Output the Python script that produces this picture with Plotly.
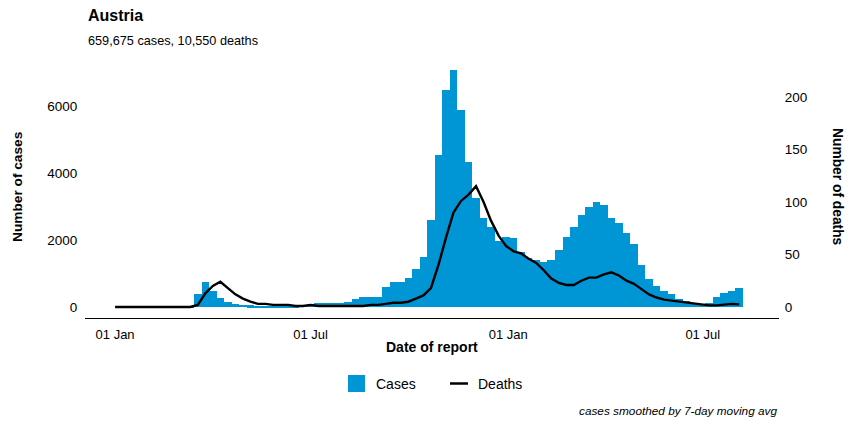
import pandas as pd
import plotly.graph_objects as go

# Weekly readings (starting 2020-01-01, every 7 days)
cases = [0, 0, 0, 0, 0, 0, 0, 0, 0, 3,
         40, 400, 760, 470, 280, 160, 100, 70, 55, 45,
         40, 40, 40, 45, 50, 70, 100, 110, 120, 120,
         125, 150, 250, 290, 300, 310, 600, 750, 760, 880,
         1150, 1500, 2600, 4550, 6500, 7100, 5900, 4350, 3250, 2650,
         2400, 1980, 2100, 2050, 1650, 1480, 1420, 1350, 1400, 1700,
         2100, 2400, 2750, 3000, 3150, 3050, 2650, 2500, 2200, 1900,
         1250, 850, 640, 480, 380, 250, 170, 110, 100, 130,
         300, 420, 480, 560]
deaths = [0, 0, 0, 0, 0, 0, 0, 0, 0, 0,
          0, 2, 13, 20, 24, 18, 12, 8, 5, 3,
          3, 2, 2, 2, 1, 1, 2, 1, 1, 1,
          1, 1, 1, 1, 2, 2, 3, 4, 4, 5,
          8, 11, 18, 40, 66, 90, 101, 107, 115, 100,
          82, 68, 58, 53, 51, 46, 42, 35, 27, 23,
          21, 21, 25, 28, 28, 31, 33, 30, 25, 22,
          17, 12, 9, 7, 6, 5, 4, 3, 2, 1.5,
          1.5, 2.5, 3, 2.5]
dates = pd.date_range("2020-01-01", periods=len(cases), freq="7D")

x_ticks = ["2020-01-01", "2020-07-01", "2021-01-01", "2021-07-01"]
cases_ticks = [0, 2000, 4000, 6000]
deaths_ticks = [0, 50, 100, 150, 200]

title_text = "Austria"
subtitle_text = "659,675 cases, 10,550 deaths"
caption_text = "cases smoothed by 7-day moving avg"
legend_labels = ["Cases", "Deaths"]

BLUE = "#0096D6"
FONT = "Liberation Sans, Arial, sans-serif"

W, H = 854, 427
L, R, T, B = 85, 75, 55, 109
PW, PH = W - L - R, H - T - B


def px(x):
    return (x - L) / PW


def py(y):
    return (H - B - y) / PH


fig = go.Figure()
fig.add_trace(go.Bar(
    x=dates, y=cases, name=legend_labels[0],
    marker=dict(color=BLUE, line=dict(width=0)),
    width=7 * 86400000, yaxis="y", showlegend=False,
))
fig.add_trace(go.Scatter(
    x=dates, y=deaths, name=legend_labels[1], mode="lines",
    line=dict(color="black", width=2.4), yaxis="y2", showlegend=False,
))

shapes = [
    dict(type="rect", xref="paper", yref="paper",
         x0=px(348), x1=px(365), y0=py(392), y1=py(375),
         fillcolor=BLUE, line=dict(width=0)),
    dict(type="line", xref="paper", yref="paper",
         x0=px(450), x1=px(468), y0=py(383.5), y1=py(383.5),
         line=dict(color="black", width=2.5)),
]

fig.update_layout(
    width=W, height=H,
    margin=dict(l=L, r=R, t=T, b=B, autoexpand=False),
    paper_bgcolor="white", plot_bgcolor="white",
    font=dict(family=FONT, size=12, color="black"),
    bargap=0,
    showlegend=False,
    shapes=shapes,
    xaxis=dict(
        type="date", range=["2019-12-04", "2021-09-10"],
        tickvals=x_ticks, tickformat="%d %b",
        showgrid=False, zeroline=False,
        showline=True, linecolor="black", linewidth=1,
        ticks="outside", ticklen=4, tickcolor="rgba(0,0,0,0)",
        tickfont=dict(size=13),
    ),
    yaxis=dict(
        range=[-328, 7537], tickvals=cases_ticks,
        showgrid=False, zeroline=False, showline=False,
        ticks="outside", ticklen=4, tickcolor="rgba(0,0,0,0)",
        tickfont=dict(size=13.5),
    ),
    yaxis2=dict(
        range=[-10.5, 240], tickvals=deaths_ticks, overlaying="y", side="right",
        showgrid=False, zeroline=False, showline=False,
        ticks="outside", ticklen=2, tickcolor="rgba(0,0,0,0)",
        tickfont=dict(size=13.5),
    ),
    annotations=[
        dict(text="<b>" + title_text + "</b>", xref="paper", yref="paper",
             x=px(86), y=py(15), xanchor="left", yanchor="middle",
             showarrow=False, font=dict(size=16)),
        dict(text=subtitle_text, xref="paper", yref="paper",
             x=px(86), y=py(41), xanchor="left", yanchor="middle",
             showarrow=False, font=dict(size=12.7)),
        dict(text="<b>Number of cases</b>", xref="paper", yref="paper",
             x=px(17), y=py(187), xanchor="center", yanchor="middle",
             textangle=-90, showarrow=False, font=dict(size=13.7)),
        dict(text="<b>Number of deaths</b>", xref="paper", yref="paper",
             x=px(838), y=py(187), xanchor="center", yanchor="middle",
             textangle=90, showarrow=False, font=dict(size=13.8)),
        dict(text="<b>Date of report</b>", xref="paper", yref="paper",
             x=0.5, y=py(347), xanchor="center", yanchor="middle",
             showarrow=False, font=dict(size=14)),
        dict(text=legend_labels[0], xref="paper", yref="paper",
             x=px(374), y=py(383.5), xanchor="left", yanchor="middle",
             showarrow=False, font=dict(size=14)),
        dict(text=legend_labels[1], xref="paper", yref="paper",
             x=px(476), y=py(383.5), xanchor="left", yanchor="middle",
             showarrow=False, font=dict(size=14)),
        dict(text="<i>" + caption_text + "</i>", xref="paper", yref="paper",
             x=px(779), y=py(411), xanchor="right", yanchor="middle",
             showarrow=False, font=dict(size=11.8)),
    ],
)

fig.write_html("out.html", config={"displayModeBar": False},
               post_script="document.body.style.margin='0';")
